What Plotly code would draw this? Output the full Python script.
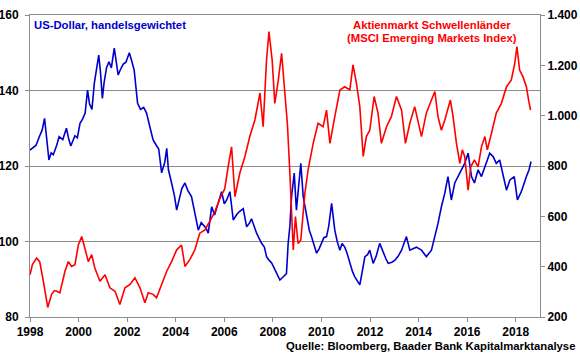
import plotly.graph_objects as go

# US-Dollar, trade weighted (left axis)
usd_x = [1998.0, 1998.1, 1998.25, 1998.4, 1998.5, 1998.6, 1998.68, 1998.78, 1998.87, 1998.96,
         1999.1, 1999.2, 1999.35, 1999.5, 1999.6, 1999.68, 1999.85, 1999.95, 2000.06, 2000.17,
         2000.27, 2000.37, 2000.45, 2000.55, 2000.65, 2000.74, 2000.83, 2000.9, 2000.98, 2001.05,
         2001.15, 2001.25, 2001.35, 2001.47, 2001.55, 2001.63, 2001.72, 2001.84, 2001.95, 2002.09,
         2002.18, 2002.29, 2002.43, 2002.55, 2002.68, 2002.8, 2002.95, 2003.07, 2003.2, 2003.3,
         2003.42, 2003.55, 2003.63, 2003.7, 2003.83, 2003.95, 2004.04, 2004.15, 2004.25, 2004.38,
         2004.5, 2004.65, 2004.79, 2004.93, 2005.05, 2005.13, 2005.25, 2005.34, 2005.48, 2005.6,
         2005.75, 2005.89, 2006.0, 2006.1, 2006.23, 2006.37, 2006.5, 2006.6, 2006.78, 2006.92,
         2007.05, 2007.12, 2007.33, 2007.53, 2007.65, 2007.74, 2007.85, 2007.95, 2008.05, 2008.15,
         2008.29, 2008.42, 2008.56, 2008.63, 2008.7, 2008.77, 2008.88, 2008.97, 2009.07, 2009.15,
         2009.25, 2009.39, 2009.5, 2009.59, 2009.7, 2009.8, 2009.9, 2010.0, 2010.1, 2010.21,
         2010.3, 2010.42, 2010.5, 2010.55, 2010.65, 2010.76, 2010.85, 2010.96, 2011.05, 2011.17,
         2011.28, 2011.37, 2011.48, 2011.58, 2011.68, 2011.79, 2011.9, 2011.99, 2012.13, 2012.25,
         2012.4, 2012.54, 2012.65, 2012.75, 2012.9, 2013.02, 2013.15, 2013.3, 2013.5, 2013.64,
         2013.8, 2013.91, 2014.12, 2014.32, 2014.53, 2014.67, 2014.8, 2014.94, 2015.08, 2015.21,
         2015.35, 2015.49, 2015.7, 2015.9, 2016.04, 2016.18, 2016.3, 2016.45, 2016.59, 2016.79,
         2016.93, 2017.07, 2017.2, 2017.34, 2017.48, 2017.62, 2017.76, 2017.94, 2018.07, 2018.23,
         2018.44, 2018.55, 2018.63]
usd_y = [124.2, 124.8, 125.5, 128.0, 129.5, 132.6, 127.0, 121.6, 123.5, 123.0,
         125.5, 127.8, 127.0, 130.0, 127.0, 125.3, 128.0, 127.5, 131.3, 132.5,
         134.0, 140.1, 136.5, 135.0, 142.0, 146.3, 149.4, 145.0, 137.9, 142.0,
         146.0, 147.6, 146.0, 151.2, 147.5, 144.1, 145.5, 147.0, 147.5, 150.0,
         148.0, 145.4, 136.6, 135.0, 135.5, 134.0, 130.0, 126.9, 125.5, 124.5,
         118.2, 121.0, 124.7, 119.0, 115.5, 112.0, 108.3, 111.0, 114.0, 115.5,
         113.5, 111.9, 107.2, 103.0, 105.0, 104.5, 103.5, 102.2, 109.2, 107.0,
         110.5, 113.2, 110.0, 111.0, 113.2, 105.7, 107.0, 107.8, 108.7, 103.9,
         105.0, 106.0, 102.2, 99.6, 98.5, 96.0, 95.0, 94.3, 93.0, 91.6,
         89.8, 90.6, 91.5, 99.5, 104.0, 111.9, 118.1, 108.3, 116.5, 120.7,
         111.9, 106.6, 103.0, 101.3, 99.0, 96.9, 98.0, 99.5, 101.0, 101.3,
         104.0, 110.1, 106.0, 103.0, 100.0, 97.7, 99.5, 98.5, 97.0, 94.2,
         92.0, 90.7, 89.5, 88.5, 92.0, 96.0, 96.5, 97.7, 94.2, 96.0,
         99.5, 97.0, 95.5, 94.2, 94.5, 95.0, 96.0, 97.7, 101.3, 97.7,
         98.2, 98.5, 97.7, 96.0, 97.7, 101.3, 104.8, 109.2, 112.8, 117.2,
         111.0, 115.5, 118.1, 120.7, 123.4, 117.2, 115.5, 119.0, 117.2, 120.7,
         123.4, 122.5, 120.7, 121.6, 117.2, 113.6, 116.3, 117.2, 111.0, 113.2,
         117.2, 119.0, 121.2]

# MSCI Emerging Markets Index (right axis)
em_x = [1998.0, 1998.1, 1998.27, 1998.4, 1998.55, 1998.69, 1998.73, 1998.89, 1999.0, 1999.1,
        1999.23, 1999.44, 1999.58, 1999.71, 1999.85, 1999.99, 2000.13, 2000.26, 2000.4, 2000.54,
        2000.67, 2000.88, 2001.09, 2001.29, 2001.5, 2001.7, 2001.91, 2002.12, 2002.32, 2002.53,
        2002.73, 2002.87, 2003.07, 2003.21, 2003.42, 2003.63, 2003.83, 2004.04, 2004.24, 2004.38,
        2004.58, 2004.79, 2004.99, 2005.2, 2005.4, 2005.61, 2005.82, 2006.02, 2006.15, 2006.3,
        2006.44, 2006.64, 2006.85, 2007.05, 2007.26, 2007.47, 2007.6, 2007.74, 2007.84, 2007.97,
        2008.08, 2008.22, 2008.36, 2008.49, 2008.6, 2008.7, 2008.77, 2008.84, 2008.93, 2009.04,
        2009.15, 2009.32, 2009.45, 2009.66, 2009.86, 2010.07, 2010.21, 2010.35, 2010.55, 2010.76,
        2010.96, 2011.17, 2011.3, 2011.44, 2011.58, 2011.72, 2011.85, 2011.99, 2012.17, 2012.33,
        2012.47, 2012.68, 2012.88, 2013.09, 2013.3, 2013.46, 2013.64, 2013.84, 2014.12, 2014.32,
        2014.53, 2014.67, 2014.8, 2014.94, 2015.08, 2015.31, 2015.42, 2015.56, 2015.7, 2015.8,
        2015.9, 2016.04, 2016.15, 2016.3, 2016.45, 2016.59, 2016.73, 2016.83, 2017.0, 2017.2,
        2017.41, 2017.62, 2017.82, 2017.96, 2018.05, 2018.16, 2018.3, 2018.44, 2018.53, 2018.61]
em_y = [368, 408, 434, 420, 342, 250, 238, 290, 305, 302,
        296, 382, 420, 401, 408, 486, 520, 473, 420, 448,
        395, 342, 368, 316, 302, 250, 316, 329, 356, 316,
        257, 296, 290, 276, 329, 382, 420, 467, 486, 401,
        428, 467, 533, 546, 580, 618, 671, 710, 792, 876,
        678, 772, 838, 917, 983, 1090, 956, 1222, 1334, 1222,
        1049, 1138, 1248, 1100, 965, 772, 612, 466, 599, 492,
        506, 692, 784, 890, 970, 956, 1022, 890, 996, 1102,
        1115, 1102, 1202, 1130, 1036, 838, 917, 942, 1076, 1010,
        890, 956, 996, 1076, 1022, 890, 970, 1036, 917, 1010,
        1062, 1096, 996, 942, 983, 1062, 996, 890, 810, 864,
        838, 704, 797, 824, 797, 876, 917, 864, 929, 1010,
        1049, 1115, 1142, 1208, 1274, 1181, 1154, 1115, 1062, 1022]

x_ticks = [1998, 2000, 2002, 2004, 2006, 2008, 2010, 2012, 2014, 2016, 2018]
left_ticks = [80, 100, 120, 140, 160]
right_ticks = [200, 400, 600, 800, 1000, 1200, 1400]

BLUE = "#0000CC"
RED = "#FF0000"
GRID = "#8C8C8C"
FONT = "Liberation Sans, Arial, sans-serif"
TXT = 11.3

fig = go.Figure()
fig.add_trace(go.Scatter(x=usd_x, y=usd_y, mode="lines", line=dict(color=BLUE, width=1.6),
                         yaxis="y", showlegend=False))
fig.add_trace(go.Scatter(x=em_x, y=em_y, mode="lines", line=dict(color=RED, width=1.6),
                         yaxis="y2", showlegend=False))

fig.update_layout(
    width=580, height=358,
    margin=dict(l=30, r=40, t=15, b=41, pad=0),
    paper_bgcolor="white", plot_bgcolor="white",
    separators=",.",
    font=dict(family=FONT, size=12, color="black"),
    xaxis=dict(range=[1998, 2019], tickvals=x_ticks, ticktext=[str(t) for t in x_ticks],
               showgrid=False, zeroline=False, showline=True, linecolor=GRID, linewidth=1,
               mirror=True, ticks="outside", ticklen=4, tickcolor=GRID, automargin=False,
               tickfont=dict(family=FONT, size=12, color="black", weight="bold")),
    yaxis=dict(range=[80, 160], tickvals=left_ticks, showgrid=True, gridcolor=GRID, gridwidth=1,
               zeroline=False, showline=True, linecolor=GRID, linewidth=1, mirror=True,
               ticks="outside", ticklen=4, tickcolor=GRID, automargin=False,
               ticklabelstandoff=4,
               tickfont=dict(family=FONT, size=12, color="black", weight="bold")),
    yaxis2=dict(range=[200, 1400], tickvals=right_ticks, tickformat=",d", overlaying="y",
                side="right", showgrid=False, zeroline=False, showline=True, linecolor=GRID,
                linewidth=1, ticks="outside", ticklen=4, tickcolor=GRID, automargin=False,
                tickfont=dict(family=FONT, size=12, color="black", weight="bold")),
    annotations=[
        dict(text="US-Dollar, handelsgewichtet", xref="paper", yref="paper",
             x=0.004, y=0.967, xanchor="left", yanchor="middle", showarrow=False,
             font=dict(family=FONT, size=TXT, color=BLUE, weight="bold")),
        dict(text="Aktienmarkt Schwellenländer", xref="paper", yref="paper",
             x=0.789, y=0.967, xanchor="center", yanchor="middle", showarrow=False,
             font=dict(family=FONT, size=TXT, color=RED, weight="bold")),
        dict(text="(MSCI Emerging Markets Index)", xref="paper", yref="paper",
             x=0.789, y=0.924, xanchor="center", yanchor="middle", showarrow=False,
             font=dict(family=FONT, size=TXT, color=RED, weight="bold")),
        dict(text="Quelle: Bloomberg, Baader Bank Kapitalmarktanalyse", xref="paper", yref="paper",
             x=1.0725, y=-0.096, xanchor="right", yanchor="middle", showarrow=False,
             font=dict(family=FONT, size=TXT, color="black", weight="bold")),
    ],
)

# remove the browser's default 8px body margin so the figure fills the window exactly
fig.write_html("out.html", config={"displayModeBar": False},
               post_script="document.body.style.margin='0';")
